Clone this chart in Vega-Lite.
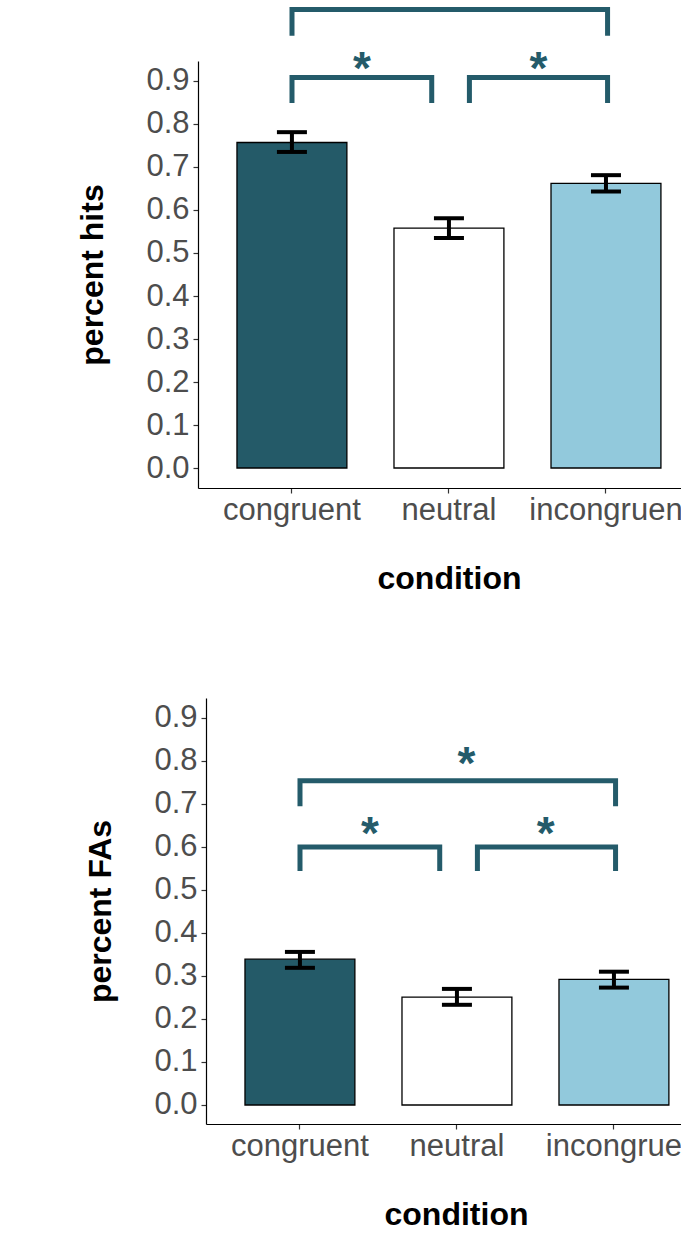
{
  "$schema": "https://vega.github.io/schema/vega-lite/v6.json",
  "padding": {"left": 76, "top": 4, "right": 0, "bottom": 0},
  "spacing": 104,
  "config": {"view": {"stroke": null}, "font": "Liberation Sans", "axis": {"labelFont": "Liberation Sans", "titleFont": "Liberation Sans"},
    "style": {"guide-label": {"ellipsis": "\u200b"}}},
  "datasets": {
    "hits": [
      {"condition": "congruent", "value": 0.757, "lo": 0.735, "hi": 0.781},
      {"condition": "neutral", "value": 0.558, "lo": 0.535, "hi": 0.581},
      {"condition": "incongruent", "value": 0.662, "lo": 0.643, "hi": 0.681}
    ],
    "fas": [
      {"condition": "congruent", "value": 0.339, "lo": 0.319, "hi": 0.356},
      {"condition": "neutral", "value": 0.251, "lo": 0.233, "hi": 0.27},
      {"condition": "incongruent", "value": 0.292, "lo": 0.273, "hi": 0.31}
    ],
    "bhits": [
      {"bracket": "a", "ord": 1, "bx": 1.0, "by": 0.849},
      {"bracket": "a", "ord": 2, "bx": 1.0, "by": 0.908},
      {"bracket": "a", "ord": 3, "bx": 1.89, "by": 0.908},
      {"bracket": "a", "ord": 4, "bx": 1.89, "by": 0.849},
      {"bracket": "b", "ord": 1, "bx": 2.13, "by": 0.849},
      {"bracket": "b", "ord": 2, "bx": 2.13, "by": 0.908},
      {"bracket": "b", "ord": 3, "bx": 3.01, "by": 0.908},
      {"bracket": "b", "ord": 4, "bx": 3.01, "by": 0.849},
      {"bracket": "c", "ord": 1, "bx": 1.0, "by": 1.005},
      {"bracket": "c", "ord": 2, "bx": 1.0, "by": 1.066},
      {"bracket": "c", "ord": 3, "bx": 3.01, "by": 1.066},
      {"bracket": "c", "ord": 4, "bx": 3.01, "by": 1.005}
    ],
    "shits": [
      {"sx": 1.445, "sy": 0.893, "label": "*"},
      {"sx": 2.57, "sy": 0.893, "label": "*"}
    ],
    "bfas": [
      {"bracket": "a", "ord": 1, "bx": 1.0, "by": 0.544},
      {"bracket": "a", "ord": 2, "bx": 1.0, "by": 0.6},
      {"bracket": "a", "ord": 3, "bx": 1.89, "by": 0.6},
      {"bracket": "a", "ord": 4, "bx": 1.89, "by": 0.544},
      {"bracket": "b", "ord": 1, "bx": 2.13, "by": 0.544},
      {"bracket": "b", "ord": 2, "bx": 2.13, "by": 0.6},
      {"bracket": "b", "ord": 3, "bx": 3.01, "by": 0.6},
      {"bracket": "b", "ord": 4, "bx": 3.01, "by": 0.544},
      {"bracket": "c", "ord": 1, "bx": 1.0, "by": 0.695},
      {"bracket": "c", "ord": 2, "bx": 1.0, "by": 0.754},
      {"bracket": "c", "ord": 3, "bx": 3.01, "by": 0.754},
      {"bracket": "c", "ord": 4, "bx": 3.01, "by": 0.695}
    ],
    "sfas": [
      {"sx": 1.445, "sy": 0.596, "label": "*"},
      {"sx": 2.565, "sy": 0.596, "label": "*"},
      {"sx": 2.06, "sy": 0.757, "label": "*"}
    ]
  },
  "vconcat": [
    {
      "width": 483,
      "height": 427,
      "layer": [
        {
          "data": {"name": "hits"},
          "layer": [
            {
              "mark": {"type": "bar", "stroke": "black", "strokeWidth": 1.3, "clip": false},
              "encoding": {
                "x": {"field": "condition", "type": "nominal", "sort": ["congruent", "neutral", "incongruent"],
                  "scale": {"type": "band", "paddingInner": 0.3, "paddingOuter": 0.188, "align": 0.66},
                  "axis": {"title": "condition", "titleFontSize": 32, "titleFontWeight": "bold", "titleColor": "black", "titlePadding": 38, "titleX": 251,
                    "labelFontSize": 31, "labelColor": "#4d4d4d", "labelPadding": 2, "labelAngle": 0, "labelLimit": 158,
                    "tickSize": 5, "tickColor": "#333333", "tickWidth": 1.2, "domainColor": "black", "domainWidth": 1.2}},
                "y": {"field": "value", "type": "quantitative",
                  "scale": {"domain": [-0.0465, 0.9465], "nice": false, "zero": false},
                  "axis": {"title": "percent hits", "values": [0, 0.1, 0.2, 0.3, 0.4, 0.5, 0.6, 0.7, 0.8, 0.9], "format": ".1f",
                    "titleFontSize": 32, "titleFontWeight": "bold", "titleColor": "black", "titlePadding": 36,
                    "labelFontSize": 31, "labelColor": "#4d4d4d", "labelPadding": 4, "labelFlush": false,
                    "tickSize": 5, "tickColor": "#333333", "tickWidth": 1.2, "domainColor": "black", "domainWidth": 1.2, "grid": false}},
                "y2": {"datum": 0},
                "fill": {"field": "condition", "type": "nominal",
                  "scale": {"domain": ["congruent", "neutral", "incongruent"], "range": ["#245a68", "#ffffff", "#92c9dc"]},
                  "legend": null}
              }
            },
            {
              "mark": {"type": "rule", "strokeWidth": 4, "color": "black"},
              "encoding": {
                "x": {"field": "condition", "type": "nominal", "sort": ["congruent", "neutral", "incongruent"]},
                "y": {"field": "lo", "type": "quantitative"},
                "y2": {"field": "hi"}
              }
            },
            {
              "mark": {"type": "tick", "thickness": 4, "size": 30, "color": "black", "orient": "horizontal", "opacity": 1},
              "encoding": {
                "x": {"field": "condition", "type": "nominal", "sort": ["congruent", "neutral", "incongruent"]},
                "y": {"field": "lo", "type": "quantitative"}
              }
            },
            {
              "mark": {"type": "tick", "thickness": 4, "size": 30, "color": "black", "orient": "horizontal", "opacity": 1},
              "encoding": {
                "x": {"field": "condition", "type": "nominal", "sort": ["congruent", "neutral", "incongruent"]},
                "y": {"field": "hi", "type": "quantitative"}
              }
            }
          ]
        },
        {
          "layer": [
            {
              "data": {"name": "bhits"},
              "mark": {"type": "line", "strokeWidth": 5, "color": "#245b6a", "strokeCap": "butt", "strokeJoin": "miter", "strokeMiterLimit": 2, "clip": false},
              "encoding": {
                "x": {"field": "bx", "type": "quantitative", "scale": {"domain": [0.4013, 3.4777], "nice": false, "zero": false}, "axis": null},
                "y": {"field": "by", "type": "quantitative"},
                "detail": {"field": "bracket"},
                "order": {"field": "ord"}
              }
            },
            {
              "data": {"name": "shits"},
              "mark": {"type": "text", "fontSize": 46, "fontWeight": "bold", "color": "#245b6a", "baseline": "alphabetic", "align": "center", "clip": false},
              "encoding": {
                "x": {"field": "sx", "type": "quantitative"},
                "y": {"field": "sy", "type": "quantitative"},
                "text": {"field": "label"}
              }
            }
          ]
        }
      ],
      "resolve": {"scale": {"x": "independent"}}
    },
    {
      "width": 483,
      "height": 426,
      "layer": [
        {
          "data": {"name": "fas"},
          "layer": [
            {
              "mark": {"type": "bar", "stroke": "black", "strokeWidth": 1.3, "clip": false},
              "encoding": {
                "x": {"field": "condition", "type": "nominal", "sort": ["congruent", "neutral", "incongruent"],
                  "scale": {"type": "band", "paddingInner": 0.3, "paddingOuter": 0.1627, "align": 0.763, "range": [8, 483]},
                  "axis": {"title": "condition", "titleFontSize": 32, "titleFontWeight": "bold", "titleColor": "black", "titlePadding": 38, "titleX": 258,
                    "labelFontSize": 31, "labelColor": "#4d4d4d", "labelPadding": 2, "labelAngle": 0, "labelLimit": 150,
                    "tickSize": 5, "tickColor": "#333333", "tickWidth": 1.2, "domainColor": "black", "domainWidth": 1.2}},
                "y": {"field": "value", "type": "quantitative",
                  "scale": {"domain": [-0.0442, 0.9465], "nice": false, "zero": false},
                  "axis": {"title": "percent FAs", "values": [0, 0.1, 0.2, 0.3, 0.4, 0.5, 0.6, 0.7, 0.8, 0.9], "format": ".1f", "offset": -8,
                    "titleFontSize": 32, "titleFontWeight": "bold", "titleColor": "black", "titlePadding": 36,
                    "labelFontSize": 31, "labelColor": "#4d4d4d", "labelPadding": 4, "labelFlush": false,
                    "tickSize": 5, "tickColor": "#333333", "tickWidth": 1.2, "domainColor": "black", "domainWidth": 1.2, "grid": false}},
                "y2": {"datum": 0},
                "fill": {"field": "condition", "type": "nominal",
                  "scale": {"domain": ["congruent", "neutral", "incongruent"], "range": ["#245a68", "#ffffff", "#92c9dc"]},
                  "legend": null}
              }
            },
            {
              "mark": {"type": "rule", "strokeWidth": 4, "color": "black"},
              "encoding": {
                "x": {"field": "condition", "type": "nominal", "sort": ["congruent", "neutral", "incongruent"]},
                "y": {"field": "lo", "type": "quantitative"},
                "y2": {"field": "hi"}
              }
            },
            {
              "mark": {"type": "tick", "thickness": 4, "size": 30, "color": "black", "orient": "horizontal", "opacity": 1},
              "encoding": {
                "x": {"field": "condition", "type": "nominal", "sort": ["congruent", "neutral", "incongruent"]},
                "y": {"field": "lo", "type": "quantitative"}
              }
            },
            {
              "mark": {"type": "tick", "thickness": 4, "size": 30, "color": "black", "orient": "horizontal", "opacity": 1},
              "encoding": {
                "x": {"field": "condition", "type": "nominal", "sort": ["congruent", "neutral", "incongruent"]},
                "y": {"field": "hi", "type": "quantitative"}
              }
            }
          ]
        },
        {
          "layer": [
            {
              "data": {"name": "bfas"},
              "mark": {"type": "line", "strokeWidth": 5, "color": "#245b6a", "strokeCap": "butt", "strokeJoin": "miter", "strokeMiterLimit": 2, "clip": false},
              "encoding": {
                "x": {"field": "bx", "type": "quantitative", "scale": {"domain": [0.4013, 3.4268], "range": [8, 483], "nice": false, "zero": false}, "axis": null},
                "y": {"field": "by", "type": "quantitative"},
                "detail": {"field": "bracket"},
                "order": {"field": "ord"}
              }
            },
            {
              "data": {"name": "sfas"},
              "mark": {"type": "text", "fontSize": 46, "fontWeight": "bold", "color": "#245b6a", "baseline": "alphabetic", "align": "center", "clip": false},
              "encoding": {
                "x": {"field": "sx", "type": "quantitative"},
                "y": {"field": "sy", "type": "quantitative"},
                "text": {"field": "label"}
              }
            }
          ]
        }
      ],
      "resolve": {"scale": {"x": "independent"}}
    }
  ]
}
